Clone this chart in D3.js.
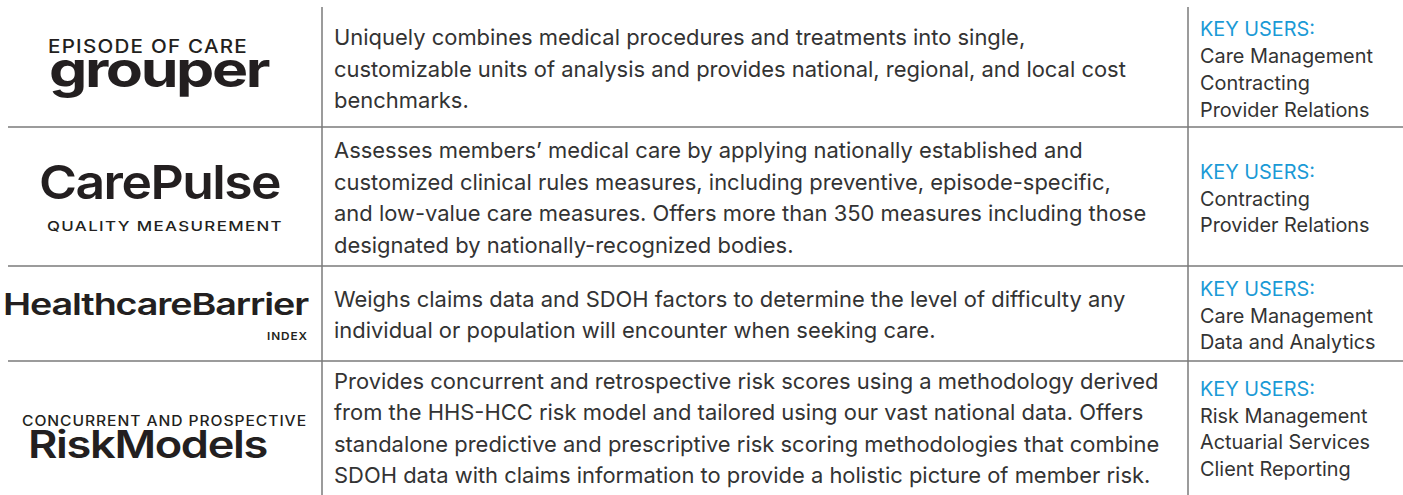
<!DOCTYPE html>
<html><head><meta charset="utf-8">
<script src="https://cdn.jsdelivr.net/npm/d3@7"></script>
<style>body{margin:0;background:#fff}svg{display:block}</style>
</head><body>
<svg id="c" width="1403" height="495"></svg>
<script>
// ---------- data ----------
const products = ["Episode of Care Grouper", "CarePulse Quality Measurement", "Healthcare Barrier Index", "Concurrent and Prospective Risk Models"];
const logoTexts = [
  ["EPISODE OF CARE", "grouper"],
  ["CarePulse", "QUALITY MEASUREMENT"],
  ["HealthcareBarrier", "INDEX"],
  ["CONCURRENT AND PROSPECTIVE", "RiskModels"]
];
const descriptions = [
  ["Uniquely combines medical procedures and treatments into single,",
   "customizable units of analysis and provides national, regional, and local cost",
   "benchmarks."],
  ["Assesses members\u2019 medical care by applying nationally established and",
   "customized clinical rules measures, including preventive, episode-specific,",
   "and low-value care measures. Offers more than 350 measures including those",
   "designated by nationally-recognized bodies."],
  ["Weighs claims data and SDOH factors to  determine the level of difficulty any",
   "individual or population will encounter when seeking care."],
  ["Provides concurrent and retrospective risk scores using a methodology derived",
   "from the HHS-HCC risk model and tailored using our vast national data. Offers",
   "standalone predictive and prescriptive risk scoring methodologies that combine",
   "SDOH data with claims information to provide a holistic picture of member risk."]
];
const keyUsersLabel = "KEY USERS:";
const keyUsers = [
  ["Care Management", "Contracting", "Provider Relations"],
  ["Contracting", "Provider Relations"],
  ["Care Management", "Data and Analytics"],
  ["Risk Management", "Actuarial Services", "Client Reporting"]
];

// ---------- layout ----------
const W = 1403, H = 495;
const rowEdges = [8, 127, 266, 361, 493];
const colX = {left: 8, logoDiv: 322, descX: 334, descMaxW: 826, userDiv: 1188, userX: 1200, userMaxW: 173};
const descLH = 31.5, userLH = 26.8;
const logoLayout = [
  [{x: 48, y: 53, w: 200, size: 18.5, weight: 500, ls: 0.06}, {x: 49, y: 87, w: 219, size: 50, weight: 700, ls: -0.04}],
  [{x: 39, y: 199, w: 241, size: 47, weight: 600, ls: -0.03}, {x: 47, y: 231, w: 236, size: 13.5, weight: 500, ls: 0.08}],
  [{x: 3, y: 315, w: 305, size: 30, weight: 600, ls: -0.03}, {x: 267, y: 340, w: 41, size: 10.5, weight: 600, ls: 0.08}],
  [{x: 22, y: 426, w: 285, size: 14, weight: 500, ls: 0.06}, {x: 28, y: 458, w: 239, size: 38, weight: 600, ls: -0.03}]
];

const svg = d3.select("#c");
const font = "Inter, 'Noto Sans', sans-serif";
const lineColor = "#7a7a7a";

const rowCenter = i => (rowEdges[i] + rowEdges[i + 1]) / 2;

// grid lines
svg.append("g").selectAll("line").data(rowEdges.slice(1, -1)).join("line")
  .attr("x1", colX.left).attr("x2", W).attr("y1", d => d).attr("y2", d => d)
  .attr("stroke", lineColor).attr("stroke-width", 1.5);
svg.append("g").selectAll("line").data([colX.logoDiv, colX.userDiv]).join("line")
  .attr("x1", d => d).attr("x2", d => d).attr("y1", rowEdges[0] - 1).attr("y2", H)
  .attr("stroke", lineColor).attr("stroke-width", 1.5);

// logos
const logoG = svg.append("g").attr("font-family", font).attr("fill", "#231f20");
logoTexts.forEach((parts, r) => {
  parts.forEach((t, k) => {
    const L = logoLayout[r][k];
    logoG.append("text").attr("x", L.x).attr("y", L.y)
      .attr("font-size", L.size).attr("font-weight", L.weight)
      .attr("letter-spacing", (L.ls * L.size) + "px")
      .attr("textLength", L.w).attr("lengthAdjust", "spacingAndGlyphs")
      .text(t);
  });
});

// descriptions
const descG = svg.append("g").attr("font-family", font).attr("fill", "#333");
descG.selectAll("text").data(descriptions.flatMap((lines, r) => lines.map((l, i) => ({l, r, i, n: lines.length}))))
  .join("text")
  .attr("x", colX.descX)
  .attr("y", d => rowCenter(d.r) + (d.i - (d.n - 1) / 2) * descLH + 9)
  .attr("font-size", 20)
  .text(d => d.l);
let maxW = 0;
descG.selectAll("text").each(function () { maxW = Math.max(maxW, this.getComputedTextLength()); });
descG.selectAll("text").attr("font-size", 20 * colX.descMaxW / maxW);

// key users
const userG = svg.append("g").attr("font-family", font);
const userData = keyUsers.flatMap((list, r) => [keyUsersLabel, ...list].map((l, i) => ({l, r, i, n: list.length + 1})));
userG.selectAll("text").data(userData).join("text")
  .attr("x", colX.userX)
  .attr("y", d => rowCenter(d.r) + (d.i - (d.n - 1) / 2) * userLH + 9)
  .attr("fill", d => d.i === 0 ? "#1b9ad6" : "#333")
  .attr("font-size", 18)
  .text(d => d.l);
let uw = 0;
userG.selectAll("text").each(function (d) { if (d.l === "Care Management") uw = Math.max(uw, this.getComputedTextLength()); });
userG.selectAll("text").attr("font-size", 18 * colX.userMaxW / uw);
</script>
</body></html>
